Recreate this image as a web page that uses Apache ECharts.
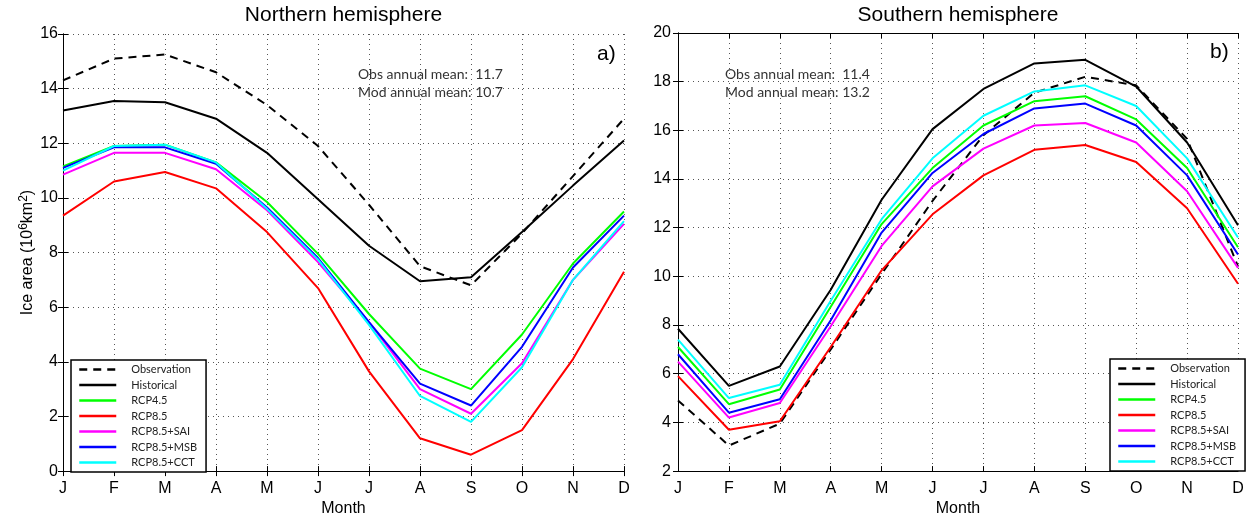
<!DOCTYPE html>
<html>
<head>
<meta charset="utf-8">
<script src="https://cdn.jsdelivr.net/npm/echarts@6/dist/echarts.min.js"></script>
<style>
  html, body { margin: 0; padding: 0; background: #fff; }
  #chart { width: 1248px; height: 522px; }
</style>
</head>
<body>
<div id="chart"></div>
<script>
// Month initials along the x axis
const months = ['J', 'F', 'M', 'A', 'M', 'J', 'J', 'A', 'S', 'O', 'N', 'D'];

const seriesNames = ['Observation', 'Historical', 'RCP4.5', 'RCP8.5', 'RCP8.5+SAI', 'RCP8.5+MSB', 'RCP8.5+CCT'];
const seriesColors = ['#000000', '#000000', '#00ff00', '#ff0000', '#ff00ff', '#0000ff', '#00ffff'];

// Northern hemisphere sea-ice area (10^6 km^2)
const nhObservation = [14.3, 15.1, 15.25, 14.6, 13.4, 11.9, 9.75, 7.5, 6.8, 8.7, 10.8, 12.9];
const nhHistorical  = [13.2, 13.55, 13.5, 12.9, 11.65, 9.95, 8.25, 6.95, 7.1, 8.75, 10.45, 12.1];
const nhRcp45       = [11.15, 11.9, 11.95, 11.3, 9.85, 7.95, 5.75, 3.75, 3.0, 5.0, 7.6, 9.5];
const nhRcp85       = [9.35, 10.6, 10.95, 10.35, 8.75, 6.7, 3.65, 1.2, 0.6, 1.5, 4.1, 7.3];
const nhSai         = [10.85, 11.65, 11.65, 11.05, 9.55, 7.65, 5.45, 3.0, 2.1, 3.95, 7.0, 9.05];
const nhMsb         = [11.1, 11.85, 11.85, 11.25, 9.65, 7.8, 5.45, 3.2, 2.4, 4.55, 7.45, 9.35];
const nhCct         = [11.0, 11.9, 11.95, 11.3, 9.6, 7.75, 5.35, 2.75, 1.8, 3.8, 7.0, 9.15];

// Southern hemisphere sea-ice area (10^6 km^2)
const shObservation = [4.9, 3.05, 3.95, 7.0, 10.1, 13.1, 15.8, 17.55, 18.2, 17.85, 15.65, 10.4];
const shHistorical  = [7.85, 5.5, 6.3, 9.45, 13.15, 16.05, 17.7, 18.75, 18.9, 17.8, 15.5, 12.1];
const shRcp45       = [7.1, 4.75, 5.35, 8.75, 12.15, 14.45, 16.2, 17.2, 17.4, 16.45, 14.45, 11.2];
const shRcp85       = [5.9, 3.7, 4.05, 7.1, 10.25, 12.55, 14.15, 15.2, 15.4, 14.7, 12.8, 9.7];
const shSai         = [6.5, 4.2, 4.8, 7.95, 11.25, 13.7, 15.25, 16.2, 16.3, 15.5, 13.5, 10.35];
const shMsb         = [6.8, 4.4, 4.95, 8.2, 11.8, 14.25, 15.85, 16.9, 17.1, 16.2, 14.15, 10.9];
const shCct         = [7.4, 5.0, 5.55, 9.0, 12.35, 14.85, 16.6, 17.6, 17.85, 17.0, 14.85, 11.6];

const nhSeries = [nhObservation, nhHistorical, nhRcp45, nhRcp85, nhSai, nhMsb, nhCct];
const shSeries = [shObservation, shHistorical, shRcp45, shRcp85, shSai, shMsb, shCct];

const panelTitles = ['Northern hemisphere', 'Southern hemisphere'];
const panelTags = ['a)', 'b)'];
const annualMeanText = [
  ['Obs annual mean:  11.7', 'Mod annual mean: 10.7'],
  ['Obs annual mean:  11.4', 'Mod annual mean: 13.2']
];
const yRanges = [[0, 16], [2, 20]];

const axisFont = 'Liberation Sans, Arial, Helvetica, sans-serif';
const noteFont = 'Lato, "Open Sans", sans-serif';

const grids = [
  { left: 63, top: 34, width: 561, height: 443 },
  { left: 678, top: 33, width: 560, height: 443 }
];

const blackLine = { lineStyle: { color: '#000', width: 1 } };
const dottedGrid = { show: true, lineStyle: { color: '#555', width: 1, type: [1, 4] } };

const xAxes = [];
const yAxes = [];
grids.forEach((g, i) => {
  xAxes.push({
    gridIndex: i, type: 'value', min: 0, max: 11, interval: 1,
    axisLine: blackLine,
    axisTick: { inside: true, length: 5, lineStyle: { color: '#000' } },
    axisLabel: { formatter: v => months[v] || '', fontSize: 16, color: '#000', fontFamily: axisFont, margin: 9 },
    splitLine: dottedGrid,
    name: 'Month', nameLocation: 'middle', nameGap: 28,
    nameTextStyle: { fontSize: 16, color: '#000', fontFamily: axisFont }
  });
  xAxes.push({
    gridIndex: i, type: 'value', position: 'top', min: 0, max: 11, interval: 1,
    axisLine: blackLine,
    axisTick: { inside: true, length: 5, lineStyle: { color: '#000' } },
    axisLabel: { show: false }, splitLine: { show: false }
  });
  const yLeft = {
    gridIndex: i, type: 'value', min: yRanges[i][0], max: yRanges[i][1], interval: 2,
    axisLine: { show: true, lineStyle: { color: '#000', width: 1 } },
    axisTick: { show: true, inside: true, length: 5, lineStyle: { color: '#000' } },
    axisLabel: { fontSize: 16, color: '#000', fontFamily: axisFont, margin: i === 0 ? 5 : 7 },
    splitLine: dottedGrid
  };
  if (i === 0) {
    Object.assign(yLeft, {
      name: 'Ice area (10{sup|6}km{sup|2})',
      nameLocation: 'middle', nameGap: 26,
      nameTextStyle: {
        fontSize: 16, color: '#000', fontFamily: axisFont,
        rich: { sup: { fontSize: 12, color: '#000', fontFamily: axisFont, verticalAlign: 'top', padding: [0, 0, 7, 0] } }
      }
    });
  }
  yAxes.push(yLeft);
  yAxes.push({
    gridIndex: i, type: 'value', position: 'right', min: yRanges[i][0], max: yRanges[i][1], interval: 2,
    axisLine: { show: true, lineStyle: { color: '#000', width: 1 } },
    axisTick: { show: true, inside: true, length: 5, lineStyle: { color: '#000' } },
    axisLabel: { show: false }, splitLine: { show: false }
  });
});

const series = [];
[nhSeries, shSeries].forEach((set, p) => {
  set.forEach((values, k) => {
    series.push({
      name: seriesNames[k], type: 'line',
      xAxisIndex: p * 2, yAxisIndex: p * 2,
      data: values.map((v, m) => [m, v]),
      symbol: 'none', silent: true,
      lineStyle: { color: seriesColors[k], width: 2, type: k === 0 ? [8, 6] : 'solid' },
      itemStyle: { color: seriesColors[k] }
    });
  });
});

const legendBase = {
  orient: 'vertical', data: seriesNames, selectedMode: false,
  itemWidth: 37, itemHeight: 10, itemGap: 4.5,
  itemStyle: { opacity: 0 },
  lineStyle: { width: 2.5 },
  borderColor: '#000', borderWidth: 1.5, backgroundColor: '#fff',
  textStyle: { fontSize: 11, color: '#222', fontFamily: '"Liberation Sans Narrow", ' + noteFont, padding: [0, 0, 0, 10] }
};

const graphics = [];
grids.forEach((g, i) => {
  graphics.push({
    type: 'text', x: g.left + g.width / 2, y: 5,
    style: { text: panelTitles[i], font: '21px ' + axisFont, fill: '#000', align: 'center', verticalAlign: 'top' }
  });
  graphics.push({
    type: 'text', left: i === 0 ? 597 : 1210, top: i === 0 ? 44 : 42,
    style: { text: panelTags[i], font: '21px ' + axisFont, fill: '#000' }
  });
  annualMeanText[i].forEach((t, j) => {
    graphics.push({
      type: 'text', left: i === 0 ? 358 : 725, top: 67 + j * 18,
      style: { text: t, font: '14px ' + noteFont, fill: '#333' }
    });
  });
});

const chart = echarts.init(document.getElementById('chart'), null, { renderer: 'canvas' });
chart.setOption({
  animation: false,
  backgroundColor: '#fff',
  grid: grids,
  xAxis: xAxes,
  yAxis: yAxes,
  legend: [
    Object.assign({}, legendBase, { left: 71, top: 360, padding: [4, 9, 4, 7] }),
    Object.assign({}, legendBase, { left: 1110, top: 359, padding: [4, 9, 4, 7] })
  ],
  series: series,
  graphic: graphics
});
</script>
</body>
</html>
